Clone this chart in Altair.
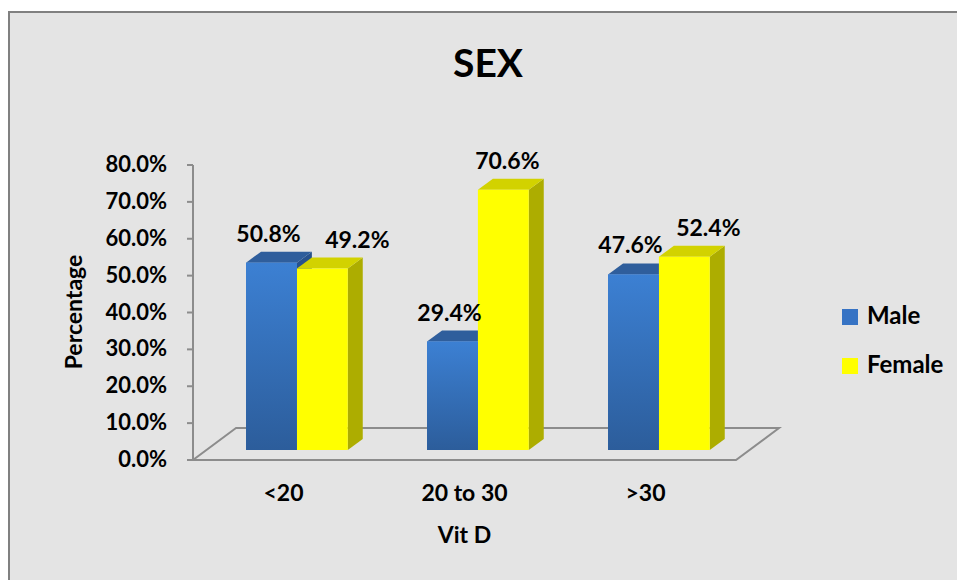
import altair as alt
import pandas as pd

# ---- data -------------------------------------------------------------
categories = ["<20", "20 to 30", ">30"]
series = ["Male", "Female"]
male_pct = [50.8, 29.4, 47.6]
female_pct = [49.2, 70.6, 52.4]
y_ticks = [0, 10, 20, 30, 40, 50, 60, 70, 80]

# horizontal nudge (px) of each value label, per series
label_nudge = {"Male": [-3, -3, -3], "Female": [35, 4, 24]}

# ---- 3-D projection settings (pixels) ---------------------------------
W, H = 543, 295            # plot area: one category = W / 3 px
Y_MAX = 80
PX_X = W / len(categories)
PX_Y = H / Y_MAX
FLOOR_DX, FLOOR_DY = 43, 32   # depth of the floor
BAR_OFF_DX, BAR_OFF_DY = 13.4, 10  # bars stand a bit behind the front edge
BAR_DX, BAR_DY = 15, 11       # depth of each bar
GAP = 0.219                    # gap before first bar, in category units
BW = 0.281                     # bar width, in category units

FONT = "Lato"
AXIS_GREY = "#8c8c8c"

side_colors = {"Male": "#27528d", "Female": "#adad00"}
top_colors = {"Male": "#2f5e9c", "Female": "#d2d200"}
front_colors = ["#3673c4", "#ffff00"]

values = {"Male": male_pct, "Female": female_pct}

base = BAR_OFF_DY / PX_Y
ddx = BAR_DX / PX_X
ddy = BAR_DY / PX_Y

front_rows, side_rows, top_rows, label_rows = [], [], [], []
for i, cat in enumerate(categories):
    for j, s in enumerate(series):
        v = values[s][i]
        bid = f"{cat}-{s}"
        x0 = i + GAP + j * BW + BAR_OFF_DX / PX_X
        x1 = x0 + BW
        top = base + v
        front_rows.append(dict(bar=bid, series=s, x0=x0, x1=x1, y0=base, y1=top))
        side_rows += [
            dict(bar=bid, series=s, c=side_colors[s], x=x1, lo=base, hi=top),
            dict(bar=bid, series=s, c=side_colors[s], x=x1 + ddx, lo=base + ddy, hi=top + ddy),
        ]
        top_rows += [
            dict(bar=bid, series=s, c=top_colors[s], y=top, l=x0, r=x1),
            dict(bar=bid, series=s, c=top_colors[s], y=top + ddy, l=x0 + ddx, r=x1 + ddx),
        ]
        label_rows.append(dict(
            series=s,
            x=(x0 + x1) / 2 + label_nudge[s][i] / PX_X,
            y=top + ddy + 17 / PX_Y,
            text=f"{v:.1f}%",
        ))

front_df = pd.DataFrame(front_rows)
side_df = pd.DataFrame(side_rows)
top_df = pd.DataFrame(top_rows)
label_df = pd.DataFrame(label_rows)
floor_df = pd.DataFrame([
    dict(y=0, l=0, r=len(categories)),
    dict(y=FLOOR_DY / PX_Y, l=FLOOR_DX / PX_X, r=len(categories) + FLOOR_DX / PX_X),
])
tick_df = pd.DataFrame({"v": y_ticks, "text": [f"{t:.1f}%" for t in y_ticks]})
cat_df = pd.DataFrame({"x": [i + 0.5 for i in range(len(categories))], "text": categories})
axis_df = pd.DataFrame({"lo": [min(y_ticks)], "hi": [max(y_ticks)]})

xs = alt.Scale(domain=[0, len(categories)], nice=False, zero=False)
ys = alt.Scale(domain=[0, Y_MAX], nice=False, zero=False)


def X(field):
    return alt.X(field, type="quantitative", scale=xs, axis=None)


def Y(field):
    return alt.Y(field, type="quantitative", scale=ys, axis=None)


one = pd.DataFrame({"k": [0]})
bold = dict(font=FONT, fontWeight="bold", color="black")

# framed grey panel behind everything
panel = alt.Chart(one).mark_rect(
    fill="#e4e4e4", stroke="#808080", strokeWidth=2
).encode(
    x=alt.value(-184), x2=alt.value(800), y=alt.value(-153), y2=alt.value(460)
)

title = alt.Chart(one).mark_text(
    text="SEX", fontSize=39, baseline="alphabetic", align="center", **bold
).encode(x=alt.value(295), y=alt.value(-88))

# value axis: line, ticks, labels and title
y_line = alt.Chart(axis_df).mark_rule(color=AXIS_GREY, strokeWidth=2).encode(
    x=alt.value(0), y=Y("lo"), y2="hi:Q"
)
y_tick_marks = alt.Chart(tick_df).mark_rule(color=AXIS_GREY, strokeWidth=2).encode(
    x=alt.value(-6), x2=alt.value(0), y=Y("v")
)
y_labels = alt.Chart(tick_df).mark_text(
    fontSize=22, align="right", baseline="middle", **bold
).encode(x=alt.value(-26), y=Y("v"), text="text:N")
y_title = alt.Chart(one).mark_text(
    text="Percentage", fontSize=23, angle=270, align="center", baseline="middle", **bold
).encode(x=alt.value(-118), y=alt.value(147))

# category axis: labels and title
x_labels = alt.Chart(cat_df).mark_text(
    fontSize=23, align="center", baseline="middle", **bold
).encode(x=X("x"), y=alt.value(329), text="text:N")
x_title = alt.Chart(one).mark_text(
    text="Vit D", fontSize=23, align="center", baseline="middle", **bold
).encode(x=alt.value(W / 2), y=alt.value(371))

floor = alt.Chart(floor_df).mark_area(
    orient="horizontal", fillOpacity=0, stroke=AXIS_GREY, strokeWidth=2
).encode(y=Y("y"), x=X("l"), x2="r:Q")

sides = alt.Chart(side_df).mark_area(orient="vertical").encode(
    x=X("x"), y=Y("hi"), y2="lo:Q",
    detail="bar:N",
    color=alt.Color("c:N", scale=None),
)

tops = alt.Chart(top_df).mark_area(orient="horizontal").encode(
    y=Y("y"), x=X("l"), x2="r:Q",
    detail="bar:N",
    color=alt.Color("c:N", scale=None),
)

fronts = alt.Chart(front_df).mark_rect().encode(
    x=X("x0"), x2="x1:Q", y=Y("y0"), y2="y1:Q",
    color=alt.Color(
        "series:N",
        scale=alt.Scale(domain=series, range=front_colors),
        legend=alt.Legend(
            orient="none", legendX=645, legendY=140, title=None,
            symbolType="square", symbolSize=256, symbolStrokeWidth=0,
            labelFont=FONT, labelFontSize=24, labelFontWeight="bold",
            labelColor="black", labelOffset=5, rowPadding=25,
        ),
    ),
)

# shaded face for the blue bars
blue_grad = alt.Gradient(
    gradient="linear",
    stops=[alt.GradientStop(color="#3c80d3", offset=0),
           alt.GradientStop(color="#2c5d9b", offset=1)],
    x1=0, x2=0, y1=0, y2=1,
)
male_fronts = alt.Chart(front_df).transform_filter(
    alt.datum.series == "Male"
).mark_rect(color=blue_grad).encode(
    x=X("x0"), x2="x1:Q", y=Y("y0"), y2="y1:Q",
)

labels = alt.Chart(label_df).mark_text(
    fontSize=23, baseline="middle", **bold
).encode(x=X("x"), y=Y("y"), text="text:N")

chart = alt.layer(
    panel, title, floor, y_line, y_tick_marks, y_labels, y_title, x_labels, x_title,
    sides, tops, fronts, male_fronts, labels,
).properties(
    width=W,
    height=H,
    autosize=alt.AutoSizeParams(type="none"),
    padding={"left": 193, "top": 165, "right": 221, "bottom": 120},
    background="white",
).configure_view(stroke=None)

chart.save("out.html", embed_options={"renderer": "svg", "actions": False})
